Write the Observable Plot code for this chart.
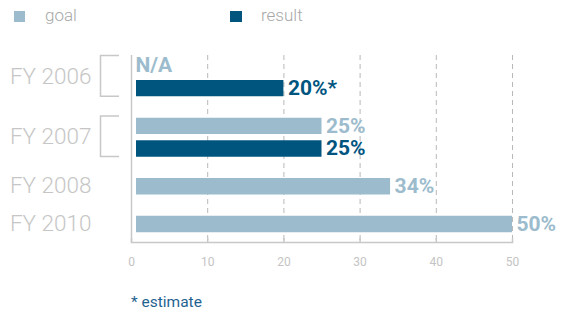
<!DOCTYPE html>
<html><head><meta charset="utf-8">
<script src="https://cdn.jsdelivr.net/npm/d3@7"></script>
<script src="https://cdn.jsdelivr.net/npm/@observablehq/plot@0.6"></script>
<style>
body{margin:0;background:#fff;font-family:Roboto,"DejaVu Sans",sans-serif;}
#wrap{position:relative;width:563px;height:316px;overflow:hidden}
#chart{position:absolute;left:0;top:0}
.sw{position:absolute;width:11.5px;height:11px;top:11px}
.lt{position:absolute;top:3px;font-size:17px;color:#a8a8a8;font-weight:300;line-height:24px}
#caption{position:absolute;left:131px;top:292px;font-size:15.5px;color:#1f6391;line-height:20px}
</style></head>
<body>
<div id="wrap">
  <div id="chart"></div>
  <div id="legend"></div>
  <div id="caption">* estimate</div>
</div>
<script>
const years = ["FY 2006", "FY 2007", "FY 2008", "FY 2010"];
const goalValues = [null, 25, 34, 50];
const resultValues = [20, 25, null, null];
const goalLabels = ["N/A", "25%", "34%", "50%"];
const resultLabels = ["20%*", "25%", null, null];
const xTicks = [0, 10, 20, 30, 40, 50];
const seriesNames = ["goal", "result"];
const seriesColors = ["#9cbccd", "#00557f"];

// row layout (ordinal slots)
const halfPairGap = 2, groupGap = 9;
const rows = [];
let sp = 0;
const spacer = n => { for (let k = 0; k < n; k++) rows.push("gap" + (sp++)); };
years.forEach((yr, i) => {
  rows.push(yr + "|goal");
  if (resultValues[i] != null) {
    spacer(halfPairGap); rows.push(yr + "|mid"); spacer(halfPairGap);
    rows.push(yr + "|result");
  }
  if (i < years.length - 1) spacer(groupGap);
});

const bars = [], labels = [], yearRows = [], pairs = [];
years.forEach((yr, i) => {
  if (goalValues[i] != null) bars.push({key: yr + "|goal", value: goalValues[i], series: "goal"});
  if (resultValues[i] != null) bars.push({key: yr + "|result", value: resultValues[i], series: "result"});
  labels.push({key: yr + "|goal", x: goalValues[i] ?? 0, label: goalLabels[i], series: "goal"});
  if (resultLabels[i] != null) labels.push({key: yr + "|result", x: resultValues[i], label: resultLabels[i], series: "result"});
  const hasResult = resultValues[i] != null;
  yearRows.push({key: hasResult ? yr + "|mid" : yr + "|goal", year: yr});
  if (hasResult) pairs.push({goal: yr + "|goal", result: yr + "|result"});
});

// legend
const legend = document.getElementById("legend");
const legX = [{sw: 13.5, t: 45}, {sw: 230, t: 261}];
seriesNames.forEach((s, i) => {
  const b = document.createElement("div"); b.className = "sw";
  b.style.left = legX[i].sw + "px"; b.style.background = seriesColors[i]; legend.appendChild(b);
  const t = document.createElement("div"); t.className = "lt";
  t.style.left = legX[i].t + "px"; t.textContent = s; legend.appendChild(t);
});

const axisGray = "#c8c8c8";
const chart = Plot.plot({
  width: 563, height: 316,
  marginLeft: 131, marginRight: 51, marginTop: 55, marginBottom: 74,
  style: {background: "transparent", fontFamily: "Roboto, 'DejaVu Sans', sans-serif"},
  x: {domain: [0, 50]},
  y: {type: "point", domain: rows, range: [65, 223.5], padding: 0, axis: null},
  color: {domain: seriesNames, range: seriesColors},
  marks: [
    Plot.gridX(xTicks.filter(d => d > 0), {stroke: "#b8b8b8", strokeOpacity: 1, strokeDasharray: "5,4"}),
    Plot.ruleX([0], {stroke: axisGray, strokeWidth: 1.5}),
    Plot.frame({anchor: "bottom", stroke: axisGray, strokeWidth: 1.5}),
    Plot.ruleX(xTicks, {stroke: axisGray, strokeWidth: 1.5, insetTop: 316 - 74 - 55 - 4}),
    Plot.axisX(xTicks, {tickSize: 0, tickPadding: 15, fontSize: 12, color: "#c4c4c4", fill: "#c4c4c4"}),
    Plot.ruleY(bars, {y: "key", x1: 0, x2: "value", stroke: "series", strokeWidth: 16.4, insetLeft: 5}),
    Plot.text(labels, {x: "x", y: "key", text: "label", fill: "series", textAnchor: "start", dx: 4, fontWeight: "bold", fontSize: 21}),
    Plot.text(yearRows, {y: "key", text: "year", frameAnchor: "left", textAnchor: "end", dx: -40, fill: "#c6c6c6", fontSize: 22.5, fontWeight: 300}),
    (index, scales, values, dimensions) => {
      const g = d3.create("svg:g");
      const xr = dimensions.marginLeft - 12, xl = dimensions.marginLeft - 30.5;
      pairs.forEach(p => {
        const y0 = scales.y(p.goal) - 9.5, y1 = scales.y(p.result) + 8.5;
        g.append("path").attr("d", `M${xr},${y0}H${xl}V${y1}H${xr}`)
          .attr("fill", "none").attr("stroke", axisGray).attr("stroke-width", 1.5);
      });
      return g.node();
    }
  ]
});
document.getElementById("chart").appendChild(chart);
</script>
</body></html>
